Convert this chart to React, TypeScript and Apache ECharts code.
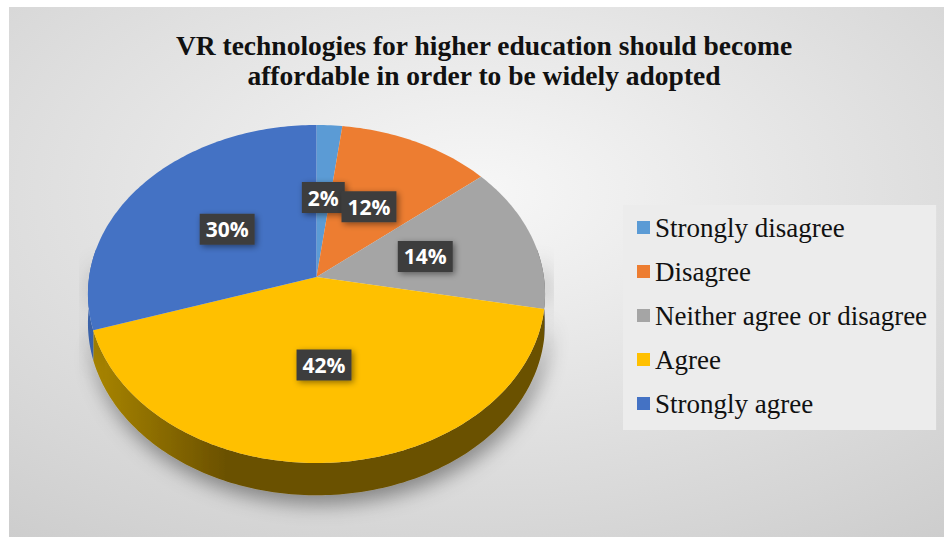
import React, { useEffect, useRef } from "react";
import * as echarts from "echarts";

const titleLines = [
  "VR technologies for higher education should become",
  "affordable in order to be widely adopted",
];
const categories = [
  "Strongly disagree",
  "Disagree",
  "Neither agree or disagree",
  "Agree",
  "Strongly agree",
];
const values = [2, 12, 14, 42, 30];
const colors = ["#5b9bd5", "#ed7d31", "#a5a5a5", "#ffc000", "#4472c4"];
const sideLight = ["#3f6f9c", "#b35e22", "#8a8a8a", "#ab8700", "#3a62a8"];
const sideDark = ["#2e5379", "#7d3f16", "#5e5e5e", "#6b5100", "#27427a"];

// perspective pie geometry
const CX = 316.5;
const CY = 277;
const RX = 227.4;
const RY = 167.3;
const K = 0.1006;
const DEPTH = 29;

const SERIF = "'Liberation Serif', 'Times New Roman', 'DejaVu Serif', serif";

function proj(deg: number, r: number): [number, number, number] {
  const t = (deg * Math.PI) / 180;
  const u = r * Math.sin(t);
  const v = -r * Math.cos(t);
  const w = 1 - K * v;
  return [CX + (RX * u) / w, CY + (RY * v) / w, w];
}

export default function App() {
  const ref = useRef<HTMLDivElement>(null);
  useEffect(() => {
    if (!ref.current) return;
    const chart = echarts.init(ref.current, undefined, { renderer: "svg" });
    const total = values.reduce((a, b) => a + b, 0);

    const renderItem = (params: any) => {
      const i = params.dataIndex;
      let start = 0;
      for (let j = 0; j < i; j++) start += values[j];
      const a0 = (start / total) * 360;
      const a1 = ((start + values[i]) / total) * 360;
      const children: any[] = [];

      const s0 = Math.max(a0, 80);
      const s1 = Math.min(a1, 280);
      if (s1 > s0) {
        const top: number[][] = [];
        const bot: number[][] = [];
        const angs: number[] = [];
        for (let a = s0; a < s1; a += 1) angs.push(a);
        angs.push(s1);
        angs.forEach((a) => {
          const p = proj(a, 1);
          top.push([p[0], p[1]]);
          bot.push([p[0], p[1] + DEPTH / p[2]]);
        });
        children.push({
          type: "polygon",
          z2: 0,
          shape: { points: top.concat(bot.reverse()) },
          style: {
            fill: new echarts.graphic.LinearGradient(
              CX - RX,
              0,
              CX + RX,
              0,
              [
                { offset: 0, color: sideLight[i] },
                { offset: 0.3, color: sideDark[i] },
                { offset: 1, color: sideDark[i] },
              ],
              true
            ),
            shadowBlur: 20,
            shadowColor: "rgba(0,0,0,0.4)",
            shadowOffsetX: 3,
            shadowOffsetY: 9,
          },
        });
      }

      const face: number[][] = [[CX, CY]];
      for (let a = a0; a < a1; a += 1) {
        const p = proj(a, 1);
        face.push([p[0], p[1]]);
      }
      const pe = proj(a1, 1);
      face.push([pe[0], pe[1]]);
      children.push({
        type: "polygon",
        z2: 10,
        shape: { points: face },
        style: { fill: colors[i] },
      });

      const m = proj((a0 + a1) / 2, 0.5);
      children.push({
        type: "text",
        z2: 100 + i,
        x: m[0],
        y: m[1],
        style: {
          text: Math.round((values[i] / total) * 100) + "%",
          align: "center",
          verticalAlign: "middle",
          fill: "#ffffff",
          fontFamily: "Open Sans",
          fontWeight: "bold",
          fontSize: 21,
          backgroundColor: "#3d3d3d",
          padding: [5, 6, 5, 6],
          shadowBlur: 6,
          shadowColor: "rgba(0,0,0,0.45)",
          shadowOffsetX: 2,
          shadowOffsetY: 2,
        },
      });
      return { type: "group", children };
    };

    chart.setOption({
      animation: false,
      backgroundColor: "#ffffff",
      graphic: [
        {
          type: "rect",
          z: -10,
          shape: { x: 9, y: 7, width: 935, height: 530 },
          style: {
            fill: {
              type: "radial",
              x: 0.5,
              y: 0.35,
              r: 1.0,
              colorStops: [
                { offset: 0, color: "#f7f7f7" },
                { offset: 1, color: "#c4c4c4" },
              ],
            },
          },
        },
      ],
      title: {
        text: titleLines.join("\n"),
        left: 484,
        textAlign: "center",
        top: 30,
        padding: 0,
        textStyle: {
          fontFamily: SERIF,
          fontWeight: "bold",
          fontSize: 27.5,
          lineHeight: 30,
          color: "#111111",
        },
      },
      legend: {
        orient: "vertical",
        left: 623,
        top: 205,
        data: categories,
        icon: "rect",
        itemWidth: 13,
        itemHeight: 13,
        itemGap: 17,
        selectedMode: false,
        backgroundColor: "#ececec",
        padding: [9, 9, 13, 14],
        textStyle: {
          fontFamily: SERIF,
          fontSize: 27,
          lineHeight: 26,
          color: "#111111",
        },
      },
      series: [
        {
          type: "pie",
          center: [-300, -300],
          radius: 5,
          silent: true,
          label: { show: false },
          labelLine: { show: false },
          data: categories.map((n, i) => ({
            name: n,
            value: values[i],
            itemStyle: { color: colors[i] },
          })),
        },
        {
          type: "custom",
          coordinateSystem: "none",
          silent: true,
          renderItem,
          data: values.map((v, i) => ({ name: categories[i], value: v })),
        },
      ],
    });
    return () => chart.dispose();
  }, []);
  return (
    <div
      ref={ref}
      style={{ position: "absolute", left: 0, top: 0, width: 944, height: 537 }}
    />
  );
}
